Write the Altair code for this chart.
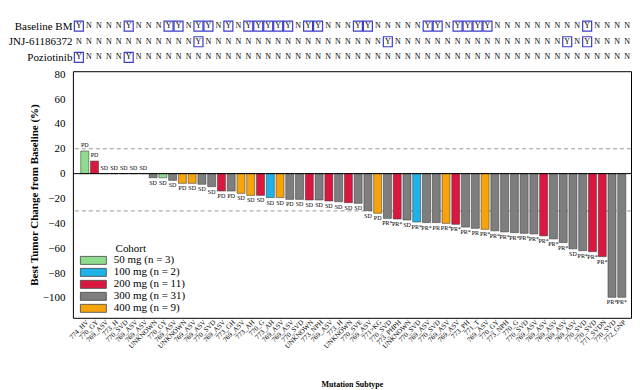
import altair as alt
import pandas as pd

SERIF = "Liberation Serif"

# ---------------- data ----------------
subtypes = ["774_HV", "770_GY", "769_ASV", "773_H", "770_SVD", "769_ASV", "769_ASV", "UNKNOWN", "770_GY", "769_ASV",
            "UNKNOWN", "769_ASV", "769_ASV", "770_SVD", "769_ASV", "773_GH", "769_ASV", "773_AH", "770_G", "773_AH",
            "769_ASV", "769_ASV", "770_SVD", "UNKNOWN", "773_NPH", "769_ASV", "773_H", "UNKNOWN", "770_SVE", "769_ASV",
            "771>KG", "770_SVD", "773_PHPH", "UNKNOWN", "770_SVD", "769_ASV", "770_SVD", "769_ASV", "769_ASV", "773_PH",
            "771_T", "769_ASV", "770_GY", "773_NPH", "770_G", "770_SVD", "769_ASV", "769_ASV", "769_ASV", "769_ASV",
            "769_ASV", "770_SVD", "770_SVD", "771_SVDN", "770_SVD", "772_GNP"]

tumor_change = [18.2, 10.1, 0, 0, 0, 0, 0, -3.3, -3.3, -5.4,
                -7.8, -7.8, -8.6, -10.5, -14.0, -14.0, -15.9, -17.5, -17.5, -19.3,
                -19.3, -20.7, -20.7, -21.2, -21.2, -22.0, -22.6, -23.4, -23.9, -29.8,
                -31.9, -36.0, -36.5, -37.3, -38.9, -39.4, -39.4, -40.0, -40.8, -43.0,
                -44.0, -44.8, -46.0, -46.9, -47.5, -48.0, -48.5, -50.1, -52.5, -55.5,
                -60.5, -62.0, -62.8, -66.8, -99.5, -99.5]

cohort_dose = [50, 200, 50, 300, 400, 300, 300, 300, 50, 300,
               400, 400, 300, 300, 200, 300, 400, 400, 200, 100,
               400, 300, 300, 200, 300, 200, 300, 200, 300, 300,
               400, 300, 200, 300, 100, 300, 300, 400, 200, 300,
               300, 400, 300, 300, 300, 300, 300, 200, 300, 300,
               300, 300, 200, 200, 300, 300]

response = ["PD", "PD", "SD", "SD", "SD", "SD", "SD", "SD", "SD", "SD",
            "PD", "SD", "SD", "SD", "PD", "PD", "SD", "SD", "SD", "SD",
            "SD", "PD", "SD", "SD", "SD", "SD", "SD", "SD", "SD", "SD",
            "PD", "PR*", "PR*", "SD", "PR*", "PR*", "PR", "PR*", "PR*", "PR*",
            "PR", "PR*", "PR*", "PR*", "PR*", "PR*", "PR*", "PR*", "PR*", "PR*",
            "SD", "PR*", "PR*", "PR*", "PR*", "PR*"]

cohort_doses = [50, 100, 200, 300, 400]
cohort_labels = ["50 mg (n = 3)", "100 mg (n = 2)", "200 mg (n = 11)", "300 mg (n = 31)", "400 mg (n = 9)"]
cohort_colors = ["#8edc8e", "#1fb2e8", "#d9173f", "#7e7e7e", "#f7a40c"]

table_rows = ["Baseline BM", "JNJ-61186372", "Poziotinib"]
baseline_bm = list("YNNNNYNNNYYNYYNYNYYYYYNYYNNNYYNNNNNYYNYYYYNNNNNNNNNYNNNN")
jnj_61186372 = list("NNNNNNNNNNNNYNNNNNNNNNNNNNNNNNNYNNNNNNNNNNNNNNNNNYNYNNNN")
poziotinib = list("YNNNNYNNNNNNNNNNNNNNNNNNNNNNNNNNNNNNNNNNNNNNNNNNNNNNNNNN")

y_ticks = [-100, -80, -60, -40, -20, 0, 20, 40, 60, 80]
y_domain = [-116, 82.4]
ref_levels = [20, -30]

# ---------------- tables ----------------
n = len(subtypes)
bars = pd.DataFrame({
    "idx": list(range(n)),
    "change": tumor_change,
    "cohort": [cohort_labels[cohort_doses.index(d)] for d in cohort_dose],
    "resp": response,
})

flags = {"Baseline BM": baseline_bm, "JNJ-61186372": jnj_61186372, "Poziotinib": poziotinib}
table_df = pd.DataFrame([
    {"row": r, "idx": i, "flag": f}
    for r in table_rows for i, f in enumerate(flags[r])
])

ref_df = pd.DataFrame({"change": ref_levels})
zero_df = pd.DataFrame({"change": [0]})

label_expr = "[" + ",".join("'" + s + "'" for s in subtypes) + "][datum.value]"

x_scale = alt.Scale(paddingInner=0.18, paddingOuter=0.67, align=0.6)
W = 559

# ---------------- top table ----------------
top_base = alt.Chart(table_df).encode(
    x=alt.X("idx:O", scale=x_scale, axis=None),
    y=alt.Y("row:N", sort=table_rows, scale=alt.Scale(type="point", padding=0.5),
            axis=alt.Axis(title=None, ticks=False, domain=False, labelFont=SERIF,
                          labelFontSize=11, labelPadding=1, labelColor="black")),
)
letters = top_base.mark_text(font=SERIF, fontSize=8, color="black", baseline="middle").encode(text="flag:N")
boxes = top_base.transform_filter("datum.flag == 'Y'").mark_point(
    shape="M-0.9,-1L0.9,-1L0.9,1L-0.9,1Z", size=100, filled=False,
    color="#3c3cc8", strokeWidth=1.2, opacity=1)
top = alt.layer(letters, boxes).properties(width=W, height=47, view=alt.ViewBackground(stroke=None))

# ---------------- bar chart ----------------
x_enc = alt.X("idx:O", scale=x_scale,
              axis=alt.Axis(title="Mutation Subtype", labelExpr=label_expr, labelAngle=-45,
                            labelAlign="right", labelBaseline="middle", labelFont=SERIF,
                            labelFontSize=7, labelPadding=3, labelOffset=3, labelOverlap=False,
                            ticks=False, domain=False, labelColor="black", titleFont=SERIF,
                            titleFontSize=8, titleFontWeight="bold", titlePadding=32,
                            titleColor="black"))
y_axis = alt.Axis(title="Best Tumor Change from Baseline (%)", values=y_ticks, grid=False,
                  ticks=False, domain=False, labelPadding=8, labelFont=SERIF,
                  labelFontSize=11, labelColor="black", labelOverlap=False,
                  titleFont=SERIF, titleFontSize=11,
                  titleFontWeight="bold", titlePadding=3, titleColor="black")
y_enc = alt.Y("change:Q", scale=alt.Scale(domain=y_domain, nice=False), axis=y_axis)

base = alt.Chart(bars).encode(x=x_enc, y=y_enc)

refs = alt.Chart(ref_df).mark_rule(color="#9a9a9a", strokeDash=[4, 3], strokeWidth=1).encode(y=y_enc)
zero = alt.Chart(zero_df).mark_rule(color="black", strokeWidth=1).encode(y=y_enc)

bar_marks = base.mark_bar(stroke="#3a3a3a", strokeWidth=0.7, strokeOpacity=0.8).encode(
    color=alt.Color("cohort:N", scale=alt.Scale(domain=cohort_labels, range=cohort_colors),
                    legend=alt.Legend(title="Cohort", orient="bottom-left", direction="vertical",
                                      offset=3, padding=0,
                                      symbolType="M-3.25,-1L3.25,-1L3.25,1L-3.25,1Z",
                                      symbolSize=64, symbolOffset=12, labelOffset=15, rowPadding=-1,
                                      symbolStrokeColor="#444", symbolStrokeWidth=0.8,
                                      titleAnchor="middle", titlePadding=1,
                                      labelFont=SERIF, labelFontSize=11, labelColor="black",
                                      titleFont=SERIF, titleFontSize=11, titleFontWeight="normal",
                                      titleColor="black")))

pos_lbl = base.transform_filter("datum.change >= 0").mark_text(
    font=SERIF, fontSize=6, baseline="bottom", dy=-3, color="black").encode(text="resp:N")
neg_lbl = base.transform_filter("datum.change < 0").mark_text(
    font=SERIF, fontSize=6, baseline="top", dy=2, color="black").encode(text="resp:N")

bottom = alt.layer(refs, bar_marks, zero, pos_lbl, neg_lbl).properties(width=W, height=247)

chart = alt.vconcat(top, bottom, spacing=2).resolve_legend(color="independent").properties(
    padding={"left": 0, "top": 10, "right": 0, "bottom": 0}
).configure_view(stroke="black", strokeWidth=1)

chart.save("out.html", embed_options={"renderer": "svg", "actions": False})
